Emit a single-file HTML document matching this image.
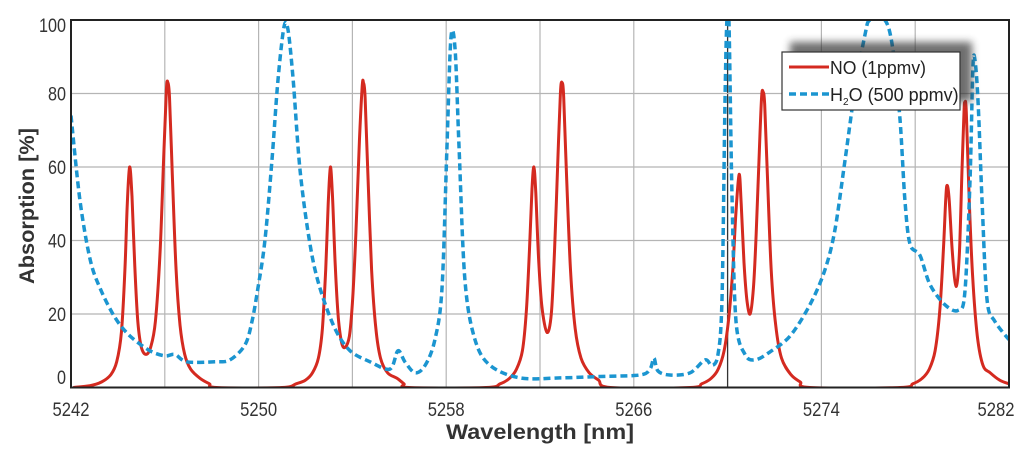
<!DOCTYPE html>
<html><head><meta charset="utf-8"><style>
body{margin:0;background:#fff;}
svg{display:block;font-family:"Liberation Sans",Arial,sans-serif;}
</style></head><body>
<svg id="chart" width="1024" height="457" viewBox="0 0 1024 457">
<defs><filter id="sh" x="-20%" y="-40%" width="140%" height="180%"><feGaussianBlur stdDeviation="4"/></filter>
<clipPath id="plotclip"><rect x="71" y="20" width="938" height="367.5"/></clipPath></defs>
<g id="grid"></g>
<g id="series" clip-path="url(#plotclip)"></g>
<rect x="71" y="20" width="938" height="367.5" fill="none" stroke="#222" stroke-width="2"/>
<g id="ticks"></g>
<text x="540" y="439" text-anchor="middle" font-size="21" font-weight="bold" fill="#333" textLength="188" lengthAdjust="spacingAndGlyphs">Wavelength [nm]</text>
<text transform="translate(34,206) rotate(-90)" text-anchor="middle" font-size="21" font-weight="bold" fill="#333" textLength="156" lengthAdjust="spacingAndGlyphs">Absorption [%]</text>
<g>
<rect x="790" y="42" width="182" height="60" fill="#333" opacity="0.7" filter="url(#sh)"/>
<rect x="782" y="52" width="178" height="58" fill="#fff" stroke="#333" stroke-width="1.2"/>
<line x1="789" y1="67" x2="829" y2="67" stroke="#d42a20" stroke-width="3"/>
<text x="830" y="74" font-size="18" fill="#222" textLength="96" lengthAdjust="spacingAndGlyphs">NO (1ppmv)</text>
<line x1="789" y1="94" x2="829" y2="94" stroke="#1b95d0" stroke-width="3.5" stroke-dasharray="7,4"/>
<text x="830" y="101" font-size="18" fill="#222">H<tspan font-size="10" dy="4">2</tspan><tspan dy="-4">O (500 ppmv)</tspan></text>
</g>
</svg>
<script>
const xTicks=[5242,5250,5258,5266,5274,5282];
const xGrid=[5246,5250,5254,5258,5262,5266,5270,5274,5278];
const yTicks=[0,20,40,60,80,100];
const noWl=[5242.1,5242.8,5243.3,5243.7,5243.95,5244.15,5244.3,5244.4,5244.5,5244.6,5244.72,5244.85,5245.0,5245.2,5245.4,5245.6,5245.8,5245.95,5246.07,5246.13,5246.2,5246.32,5246.48,5246.65,5246.85,5247.1,5247.5,5247.9,5248.2,
5251.0,5251.6,5252.0,5252.3,5252.55,5252.72,5252.86,5252.97,5253.06,5253.15,5253.27,5253.4,5253.55,5253.7,5253.87,5254.0,5254.15,5254.3,5254.42,5254.47,5254.54,5254.66,5254.82,5255.0,5255.2,5255.5,5255.9,5256.2,5256.4,
5259.7,5260.3,5260.7,5261.0,5261.25,5261.42,5261.55,5261.66,5261.74,5261.82,5261.94,5262.08,5262.3,5262.48,5262.62,5262.75,5262.87,5262.94,5263.01,5263.13,5263.3,5263.5,5263.75,5264.1,5264.5,5265.0,
5268.4,5268.9,5269.3,5269.6,5269.85,5270.05,5270.22,5270.35,5270.49,5270.58,5270.7,5270.82,5270.96,5271.1,5271.22,5271.35,5271.45,5271.51,5271.58,5271.7,5271.86,5272.05,5272.3,5272.7,5273.1,5273.5,
5277.35,5277.9,5278.3,5278.6,5278.85,5279.05,5279.2,5279.3,5279.36,5279.45,5279.58,5279.74,5279.88,5280.0,5280.08,5280.12,5280.18,5280.3,5280.45,5280.65,5280.89,5281.2,5281.6,5282];
const noVal=[0,0.5,1.5,3.5,7,15,32,50,60,52,33,18,11,9,11,18,37,62,81,83,79,58,32,17,9,5,2.5,1,0,
0,1,2,4,8,16,32,50,60,52,33,19,12,11,14,23,42,67,82,83,79,58,32,16,8,4,2.5,1,0,
0,1,2.5,5,10,21,37,54,60,53,35,22,15,20,37,60,80,83,79,58,32,16,8,4,2,0,
0,1,2.5,5,10,19,32,47,58,50,34,24,20,27,42,64,79,80.5,77,57,32,17,8,3.5,1.5,0,
0,1,2.5,5,10,21,37,51,55,51,37,27.5,36,60,75,77.6,75,52,30,14,6,4,2,1];
const h2oWl=[5242.00,5242.38,5242.81,5243.24,5243.88,5244.52,5245.37,5246.01,5246.43,5246.94,5248.14,5248.78,5249.42,5249.72,5249.97,5250.27,5250.57,5250.83,5251.08,5251.25,5251.47,5251.77,5252.19,5252.62,5253.26,5253.90,5254.75,5255.60,5255.94,5256.24,5256.67,5257.10,5257.52,5257.82,5258.03,5258.20,5258.38,5258.55,5258.80,5259.23,5259.87,5261.15,5262.85,5264.56,5266.26,5266.69,5266.86,5267.03,5267.54,5268.40,5269.04,5269.33,5269.59,5269.76,5269.89,5269.97,5270.06,5270.19,5270.36,5270.74,5271.17,5271.81,5272.66,5273.51,5274.15,5274.58,5275.01,5275.43,5275.86,5276.07,5276.71,5277.05,5277.35,5277.56,5277.78,5278.20,5278.63,5279.27,5279.83,5280.12,5280.34,5280.46,5280.55,5280.68,5280.85,5281.06,5281.40,5282.00];
const h2oVal=[74,51,35,27,19,14,10,8.6,9,7,7,7.5,11.6,18,27,40,62,84,98,97.5,84,59,39,27,16,10,7,5,10,7,4,6,13,27,65,95,92,65,29,13,6,2.6,2.6,3,3.4,5,8,4.5,3.4,4,7.5,6,9,24,78,100,99,51,18,9,7.5,9.7,14,22.5,32,43,62,81,96,100,100,92,73,51,39,36,28,22.5,21,26,57,87,89,78,51,24,18,13];

const X0=71,X1=1009,Y0=387.5,Y1=20;
const xs=v=>X0+(v-5242)/(5282-5242)*(X1-X0);
const ys=v=>Y0-v/100*(Y0-Y1);
const NS='http://www.w3.org/2000/svg';
const grid=document.getElementById('grid'),ticks=document.getElementById('ticks'),series=document.getElementById('series');
xGrid.forEach(g=>{const l=document.createElementNS(NS,'line');
l.setAttribute('x1',xs(g));l.setAttribute('x2',xs(g));l.setAttribute('y1',Y1);l.setAttribute('y2',Y0);
l.setAttribute('stroke',g===5270?'#333':'#b5b5b5');l.setAttribute('stroke-width',g===5270?1.3:1.2);


grid.appendChild(l);});
yTicks.forEach(t=>{if(t>0&&t<100){const l=document.createElementNS(NS,'line');
l.setAttribute('x1',X0);l.setAttribute('x2',X1);l.setAttribute('y1',ys(t));l.setAttribute('y2',ys(t));
l.setAttribute('stroke','#b5b5b5');l.setAttribute('stroke-width',1.2);


grid.appendChild(l);}
const tx=document.createElementNS(NS,'text');
tx.setAttribute('x',66);tx.setAttribute('y',Math.min(Math.max(ys(t)+7,32),384));
tx.setAttribute('text-anchor','end');tx.setAttribute('font-size','19');tx.setAttribute('fill','#333');
tx.setAttribute('textLength',String(t).length*9);tx.setAttribute('lengthAdjust','spacingAndGlyphs');
tx.textContent=t;


ticks.appendChild(tx);});
xTicks.forEach(t=>{const tx=document.createElementNS(NS,'text');
tx.setAttribute('x',Math.min(xs(t),996));tx.setAttribute('y',416);tx.setAttribute('text-anchor','middle');
tx.setAttribute('font-size','19');tx.setAttribute('fill','#333');
tx.setAttribute('textLength','37');tx.setAttribute('lengthAdjust','spacingAndGlyphs');
tx.textContent=t;


ticks.appendChild(tx);});
function smooth(pts){let d='M'+pts[0][0].toFixed(1)+','+pts[0][1].toFixed(1);
for(let i=0;i<pts.length-1;i++){const p0=pts[Math.max(i-1,0)],p1=pts[i],p2=pts[i+1],p3=pts[Math.min(i+2,pts.length-1)];
const k=0.16;
const c1=[p1[0]+(p2[0]-p0[0])*k,p1[1]+(p2[1]-p0[1])*k],c2=[p2[0]-(p3[0]-p1[0])*k,p2[1]-(p3[1]-p1[1])*k];
d+='C'+c1[0].toFixed(1)+','+c1[1].toFixed(1)+' '+c2[0].toFixed(1)+','+c2[1].toFixed(1)+' '+p2[0].toFixed(1)+','+p2[1].toFixed(1);}
return d;}
function path(wl,val,color,w,dash,name){
const p=document.createElementNS(NS,'path');
p.setAttribute('d',smooth(wl.map((v,i)=>[xs(v),ys(val[i])])));
p.setAttribute('fill','none');p.setAttribute('stroke',color);p.setAttribute('stroke-width',w);
p.setAttribute('stroke-linejoin','round');
if(dash)p.setAttribute('stroke-dasharray',dash);


series.appendChild(p);}
path(noWl,noVal,'#d42a20',3,null,'no-line');
path(h2oWl,h2oVal,'#1b95d0',3.5,'7,4','h2o-line');
</script>
</body></html>
